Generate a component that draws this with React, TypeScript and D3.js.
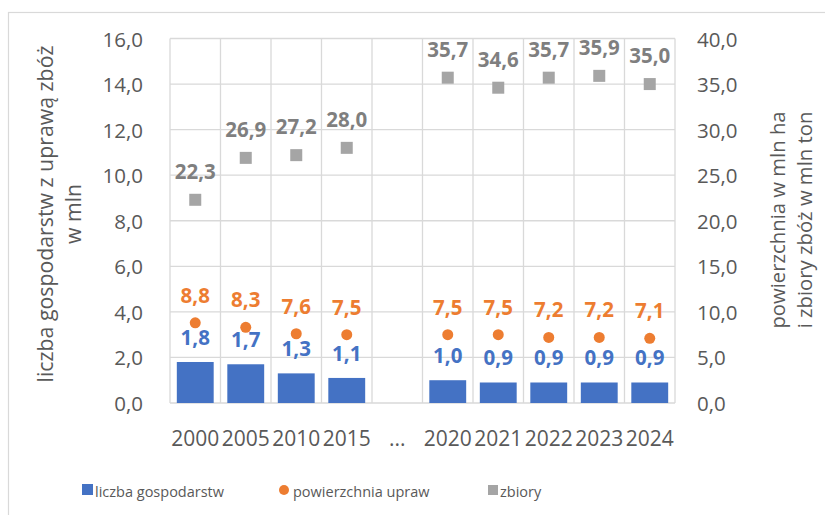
import React from 'react';
import * as d3 from 'd3';

const categories = ['2000', '2005', '2010', '2015', '...', '2020', '2021', '2022', '2023', '2024'];
const farms = [1.8, 1.7, 1.3, 1.1, null, 1.0, 0.9, 0.9, 0.9, 0.9];
const area = [8.8, 8.3, 7.6, 7.5, null, 7.5, 7.5, 7.2, 7.2, 7.1];
const harvest = [22.3, 26.9, 27.2, 28.0, null, 35.7, 34.6, 35.7, 35.9, 35.0];
const leftTicks = [0, 2, 4, 6, 8, 10, 12, 14, 16];
const rightTicks = [0, 5, 10, 15, 20, 25, 30, 35, 40];

const BLUE = '#4472C4';
const ORANGE = '#ED7D31';
const GRAY = '#A5A5A5';
const FONT = '"Open Sans", sans-serif';

const fmt = (v: number) => v.toFixed(1).replace('.', ',');

export default function App() {
  const width = 825;
  const height = 515;
  const m = { left: 170, right: 675, top: 38.5, bottom: 403 };

  const x = d3.scaleBand().domain(categories).range([m.left, m.right]).padding(0);
  const yL = d3.scaleLinear().domain([0, 16]).range([m.bottom, m.top]);
  const yR = d3.scaleLinear().domain([0, 40]).range([m.bottom, m.top]);
  const bw = x.bandwidth();
  const barW = bw * 0.73;
  const cx = (c: string) => (x(c) as number) + bw / 2;

  const boundaries = categories.map(c => x(c) as number).concat([m.right]);

  return (
    <svg width={width} height={height} style={{ position: 'absolute', left: 0, top: 0 }} fontFamily={FONT}>
      <rect x={0} y={0} width={width} height={height} fill="#fff" />
      <rect x={8.5} y={12.5} width={840} height={540} fill="none" stroke="#d9d9d9" strokeWidth={1.2} />

      {/* grid */}
      {leftTicks.map(t => (
        <line key={'h' + t} x1={m.left} x2={m.right} y1={yL(t)} y2={yL(t)} stroke="#d9d9d9" strokeWidth={1.3} />
      ))}
      {boundaries.map((b, i) => (
        <line key={'v' + i} x1={b} x2={b} y1={m.top} y2={m.bottom} stroke="#d9d9d9" strokeWidth={1.3} />
      ))}

      {/* left ticks */}
      {leftTicks.map(t => (
        <text key={'lt' + t} x={143} y={yL(t) + 8} textAnchor="end" fontSize={20.5} fill="#595959">{fmt(t)}</text>
      ))}
      {/* right ticks */}
      {rightTicks.map(t => (
        <text key={'rt' + t} x={697} y={yR(t) + 8} textAnchor="start" fontSize={20.5} fill="#595959">{fmt(t)}</text>
      ))}

      {/* x labels */}
      {categories.map(c => (
        <text key={'x' + c} x={cx(c)} y={446} textAnchor="middle" fontSize={21} fill="#595959">{c}</text>
      ))}

      {/* bars */}
      {categories.map((c, i) => farms[i] == null ? null : (
        <rect key={'b' + c} x={cx(c) - barW / 2} y={yL(farms[i] as number)} width={barW}
          height={m.bottom - yL(farms[i] as number)} fill={BLUE} />
      ))}
      {/* area dots */}
      {categories.map((c, i) => area[i] == null ? null : (
        <circle key={'a' + c} cx={cx(c)} cy={yR(area[i] as number)} r={5.5} fill={ORANGE} />
      ))}
      {/* harvest squares */}
      {categories.map((c, i) => harvest[i] == null ? null : (
        <rect key={'h' + c} x={cx(c) - 6} y={yR(harvest[i] as number) - 6} width={12} height={12} fill={GRAY} />
      ))}

      {/* data labels */}
      {categories.map((c, i) => farms[i] == null ? null : (
        <text key={'bl' + c} x={cx(c)} y={yL(farms[i] as number) - 17} textAnchor="middle" fontSize={20.5}
          fontWeight="bold" fill={BLUE}>{fmt(farms[i] as number)}</text>
      ))}
      {categories.map((c, i) => area[i] == null ? null : (
        <text key={'al' + c} x={cx(c)} y={yR(area[i] as number) - 20} textAnchor="middle" fontSize={20.5}
          fontWeight="bold" fill={ORANGE}>{fmt(area[i] as number)}</text>
      ))}
      {categories.map((c, i) => harvest[i] == null ? null : (
        <text key={'hl' + c} x={cx(c)} y={yR(harvest[i] as number) - 21} textAnchor="middle" fontSize={20.5}
          fontWeight="bold" fill="#7F7F7F">{fmt(harvest[i] as number)}</text>
      ))}

      {/* axis titles */}
      <g transform="translate(53,214) rotate(-90)" fontSize={21.3} fill="#595959" textAnchor="middle">
        <text x={0} y={0}>liczba gospodarstw z uprawą zbóż</text>
        <text x={0} y={28}>w mln</text>
      </g>
      <g transform="translate(785,220) rotate(-90)" fontSize={20.3} fill="#595959" textAnchor="middle">
        <text x={0} y={0}>powierzchnia w mln ha</text>
        <text x={0} y={27}>i zbiory zbóż w mln ton</text>
      </g>

      {/* legend */}
      <rect x={82} y={484} width={11} height={11} fill={BLUE} />
      <text x={95} y={497} fontSize={14.5} fill="#595959">liczba gospodarstw</text>
      <circle cx={284} cy={490} r={5} fill={ORANGE} />
      <text x={293} y={497} fontSize={14.5} fill="#595959">powierzchnia upraw</text>
      <rect x={488} y={485} width={10} height={10} fill={GRAY} />
      <text x={500} y={497} fontSize={14.5} fill="#595959">zbiory</text>
    </svg>
  );
}
